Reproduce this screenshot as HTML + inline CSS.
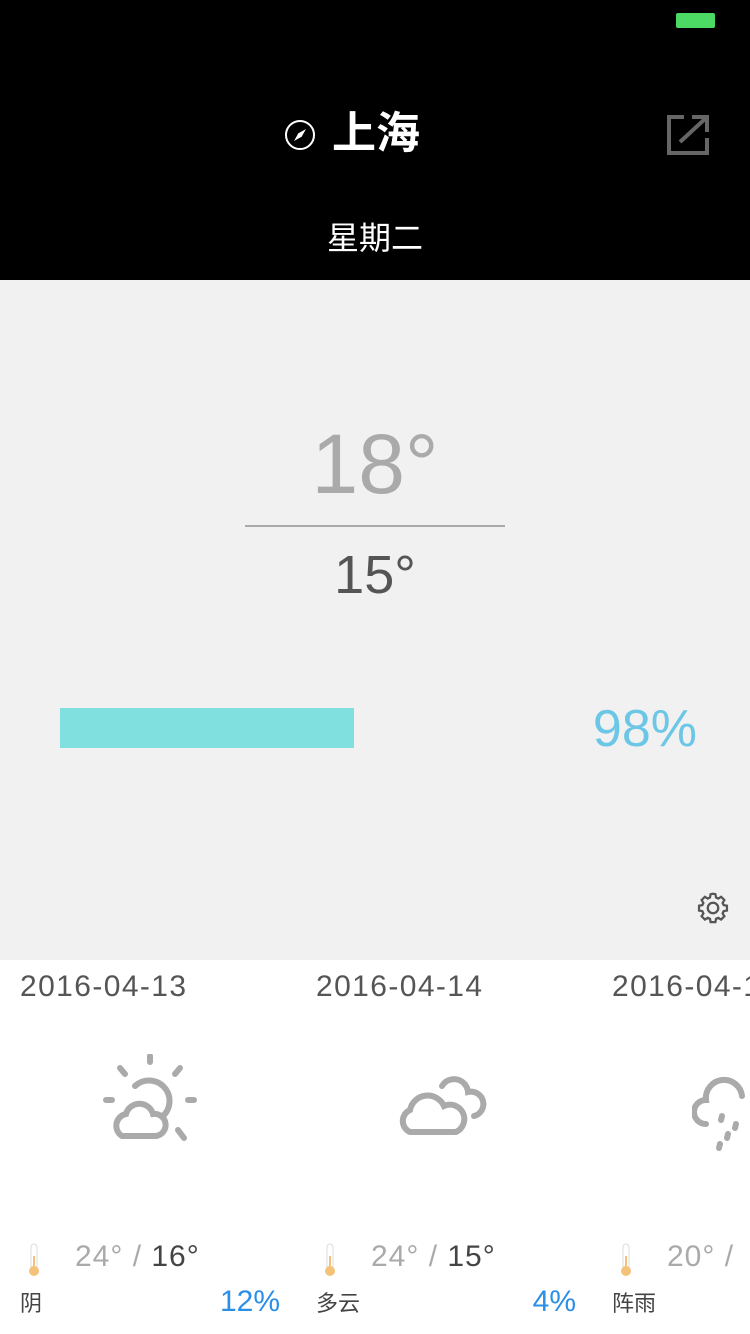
<!DOCTYPE html>
<html><head><meta charset="utf-8">
<style>
*{margin:0;padding:0;box-sizing:border-box}
body{width:750px;height:1334px;overflow:hidden;font-family:"Liberation Sans","Noto Sans CJK SC",sans-serif;background:#fff;position:relative}
.abs{position:absolute}
#top{left:0;top:0;width:750px;height:280px;background:#000}
#mid{left:0;top:280px;width:750px;height:680px;background:#f1f1f1}
.t{white-space:nowrap;line-height:1}
</style></head><body>
<div id="top" class="abs">
  <div class="abs" style="left:676px;top:13px;width:39px;height:15px;background:#4cd964;border-radius:2px"></div>
  <svg class="abs" style="left:284px;top:119px" width="32" height="32"><circle cx="16" cy="16" r="14" fill="none" stroke="#fff" stroke-width="2"/><path d="M22 10 L17.5 18 L14 14.5 Z M10 22 L14.5 14 L18 17.5 Z" fill="#fff"/></svg>
  <div class="abs t" style="left:332px;top:112px;font-size:44px;color:#fff;font-weight:bold">上海</div>
  <svg class="abs" style="left:666px;top:114px" width="44" height="42"><path d="M18 3 H3 V39 H41 V24" fill="none" stroke="#666" stroke-width="4"/><path d="M14 28 L40 4 M26 3 H41 V18" fill="none" stroke="#666" stroke-width="4"/></svg>
  <div class="abs t" style="left:0;width:750px;text-align:center;top:222px;font-size:32px;color:#fff">星期二</div>
</div>
<div id="mid" class="abs">
  <div class="abs t" style="left:0;width:750px;text-align:center;top:142px;font-size:84px;color:#aaa;font-weight:300">18°</div>
  <div class="abs" style="left:245px;top:245px;width:260px;height:2px;background:#aaa"></div>
  <div class="abs t" style="left:0;width:750px;text-align:center;top:268px;font-size:54px;color:#555">15°</div>
  <svg class="abs" style="left:0;top:400px" width="750" height="100" id="chart"></svg>
  <svg class="abs" style="left:695px;top:610px" width="36" height="36" viewBox="0 0 24 24"><path fill="none" stroke="#555" stroke-width="1.5" d="M12 2.5l1.6.3.4 2.2 1.5.7 1.9-1.2 2.2 2.2-1.2 1.9.7 1.5 2.2.4v3.2l-2.2.4-.7 1.5 1.2 1.9-2.2 2.2-1.9-1.2-1.5.7-.4 2.2h-3.2l-.4-2.2-1.5-.7-1.9 1.2-2.2-2.2 1.2-1.9-.7-1.5-2.2-.4v-3.2l2.2-.4.7-1.5-1.2-1.9 2.2-2.2 1.9 1.2 1.5-.7.4-2.2z"/><circle cx="12" cy="12" r="3.5" fill="none" stroke="#555" stroke-width="1.5"/></svg>
</div>
<div id="days"></div>
<script>
const humidityLabels=["98%"];
const humidityValues=[98];
const svg=document.getElementById('chart');
const NS='http://www.w3.org/2000/svg';
function xScale(v){return v/100*300;}
humidityValues.forEach((v,i)=>{
  const r=document.createElementNS(NS,'rect');
  r.setAttribute('x',60);r.setAttribute('y',28);r.setAttribute('width',xScale(v));r.setAttribute('height',40);r.setAttribute('fill','#7fe0df');
  
  
  svg.appendChild(r);
  const t=document.createElementNS(NS,'text');
  t.setAttribute('x',697);t.setAttribute('y',66);t.setAttribute('text-anchor','end');t.setAttribute('font-size','52');t.setAttribute('fill','#6cc6e6');t.setAttribute('font-family','Liberation Sans, sans-serif');
  t.textContent=humidityLabels[i];
  
  
  svg.appendChild(t);
});
const dates=["2016-04-13","2016-04-14","2016-04-15"];
const highs=[24,24,20];
const lows=[16,15,13];
const conds=["阴","多云","阵雨"];
const rain=["12%","4%",""];
const icons=[
 '<g fill="none" stroke="#aaa" stroke-width="6" stroke-linecap="round"><line x1="50" y1="2" x2="50" y2="8"/><line x1="20" y1="14" x2="25" y2="20"/><line x1="80" y1="14" x2="75" y2="20"/><line x1="6" y1="46" x2="12" y2="46"/><line x1="88" y1="46" x2="94" y2="46"/><line x1="78" y1="76" x2="84" y2="84"/><path d="M35 32 A18 18 0 1 1 63 62"/><path d="M22 82 A12 12 0 0 1 26 60 A14 14 0 0 1 53 60 A11 11 0 0 1 56 82 Z"/></g>',
 '<g fill="none" stroke="#aaa" stroke-width="6" stroke-linecap="round"><path d="M46 32 A14 14 0 0 1 72 38 A11 11 0 0 1 78 62"/><path d="M14 78 A12 12 0 0 1 14 56 A18 18 0 0 1 48 52 A13 13 0 0 1 60 78 Z"/></g>',
 '<g fill="none" stroke="#aaa" stroke-width="6" stroke-linecap="round"><path d="M14 70 A12 12 0 0 1 14 46 A18 18 0 0 1 50 42"/><line x1="30" y1="62" x2="29" y2="66"/><line x1="44" y1="70" x2="43" y2="74"/><line x1="36" y1="80" x2="35" y2="84"/><line x1="28" y1="90" x2="27" y2="94"/></g>'
];
const days=document.getElementById('days');
dates.forEach((d,i)=>{
  const x=i*296;
  const c=document.createElement('div');
  c.className='abs';c.style.cssText=`left:${x}px;top:960px;width:296px;height:374px`;
  
  
  c.innerHTML=`<div class="abs t" style="left:20px;top:12px;font-size:30px;color:#555;letter-spacing:1.4px">${d}</div>
  <svg class="abs" style="left:100px;top:94px" width="100" height="100">${icons[i]}</svg>
  <svg class="abs" style="left:27px;top:282px" width="14" height="36"><rect x="4" y="2" width="6" height="26" rx="3" fill="#fff" stroke="#ddd"/><rect x="6" y="14" width="2" height="14" fill="#f5c27a"/><circle cx="7" cy="29" r="5" fill="#f5c27a"/></svg>
  <div class="abs t" style="left:75px;top:282px;font-size:30px;color:#aaa;letter-spacing:1px">${highs[i]}° / <span style="color:#444">${i<2?lows[i]+'°':''}</span></div>
  <div class="abs t" style="left:20px;top:333px;font-size:22px;color:#444">${conds[i]}</div>
  <div class="abs t" style="right:16px;top:327px;font-size:30px;color:#2b8fe8">${rain[i]}</div>`;
  days.appendChild(c);
});
</script>
</body></html>
